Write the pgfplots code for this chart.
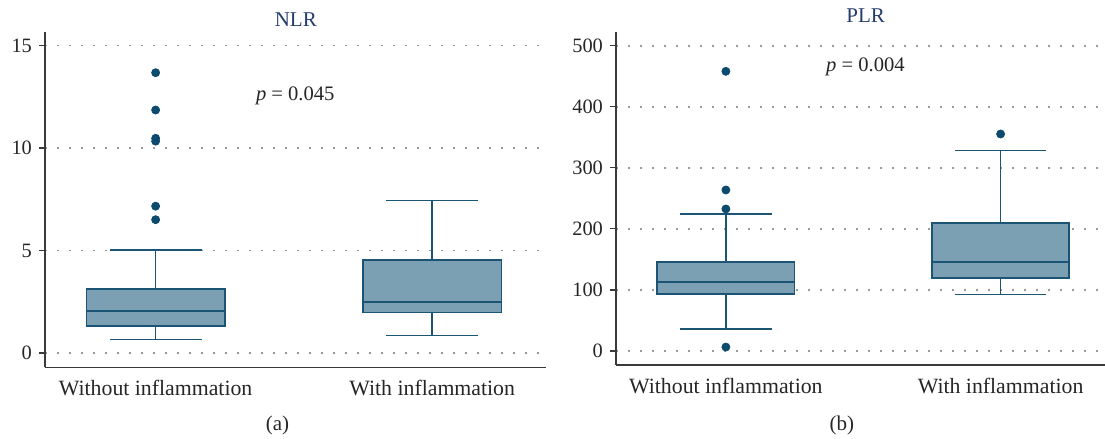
\documentclass[border=0pt]{standalone}
\usepackage{pgfplots}
\pgfplotsset{compat=1.18}
\usepackage{fontspec}
\setmainfont{Liberation Serif}
\definecolor{boxfill}{HTML}{7B9FB3}
\definecolor{boxedge}{HTML}{1C5475}
\definecolor{outl}{HTML}{0C4A6E}
\definecolor{titlec}{HTML}{253D6B}
\definecolor{axc}{HTML}{3A3A3A}
\definecolor{gridc}{HTML}{9A9A9A}
\tikzset{
  ttl/.style={anchor=center, font=\fontsize{10.5}{12}\selectfont, text=titlec},
  pv/.style={anchor=west, inner sep=0pt, font=\fontsize{10.3}{12}\selectfont, text=black!85},
}
\pgfplotsset{
  mystyle/.style={
    scale only axis,
    clip=false,
    axis x line*=bottom,
    axis y line*=left,
    axis line style={draw=axc, line width=0.75pt},
    tick align=outside,
    major tick length=3pt,
    ytick style={draw=axc, line width=0.6pt},
    xtick style={draw=none},
    xtick={0,1},
    xticklabels={Without inflammation, With inflammation},
    xmin=-0.4,
    ymajorgrids,
    major grid style={draw=gridc, line width=0.9pt, dash pattern=on 0.9pt off 5.1pt},
    /pgf/number format/assume math mode=true,
    yticklabel style={font=\fontsize{10.2}{12}\selectfont, text=black!85},
    xticklabel style={font=\fontsize{10.9}{13}\selectfont, text=black!85},
    xlabel style={font=\fontsize{10.5}{12}\selectfont, text=black!85, anchor=center},
  },
  wh/.style={draw=boxedge, line width=0.75pt, mark=none},
  bx/.style={draw=boxedge, fill=boxfill, line width=0.85pt, mark=none},
  md/.style={draw=boxedge, line width=1.05pt, mark=none},
  outs/.style={only marks, mark=*, mark size=2pt, mark options={fill=outl, draw=outl, solid}},
}
\begin{document}
\begin{tikzpicture}
\useasboundingbox (0,0) rectangle (552.5pt,219.5pt);
% Panel (a) NLR
\begin{axis}[mystyle,
  at={(22.5pt,35.85pt)}, anchor=south west,
  width=250.3pt, height=167.8pt,
  xmax=1.41,
  ymin=-0.7, ymax=15.67,
  ytick={0,5,10,15},
  xlabel={(a)},
  xlabel style={at={(axis description cs:0.4644,0)}, yshift=-29pt},
]
% Without inflammation: lw 0.65, q1 1.30, med 2.03, q3 3.11, uw 5.02
\addplot[wh] coordinates {(0,0.65) (0,5.02)};
\addplot[wh] coordinates {(-0.1667,0.65) (0.1667,0.65)};
\addplot[wh] coordinates {(-0.1667,5.02) (0.1667,5.02)};
\addplot[bx] coordinates {(-0.25,1.30) (0.25,1.30) (0.25,3.11) (-0.25,3.11)} -- cycle;
\addplot[md] coordinates {(-0.25,2.03) (0.25,2.03)};
% With inflammation: lw 0.85, q1 1.98, med 2.50, q3 4.52, uw 7.43
\addplot[wh] coordinates {(1,0.85) (1,7.43)};
\addplot[wh] coordinates {(0.8333,0.85) (1.1667,0.85)};
\addplot[wh] coordinates {(0.8333,7.43) (1.1667,7.43)};
\addplot[bx] coordinates {(0.75,1.98) (1.25,1.98) (1.25,4.52) (0.75,4.52)} -- cycle;
\addplot[md] coordinates {(0.75,2.50) (1.25,2.50)};
\addplot[outs] coordinates {(0,13.67) (0,11.85) (0,10.47) (0,10.33) (0,7.16) (0,6.50)};
\node[pv] at (rel axis cs:0.4207,0.8084) {\textit{p} = 0.045};
\node[ttl, yshift=6.2pt] at (rel axis cs:0.501,1) {NLR};
\end{axis}
% Panel (b) PLR
\begin{axis}[mystyle,
  at={(308pt,37pt)}, anchor=south west,
  width=244.5pt, height=166.65pt,
  xmax=1.38,
  ymin=-22.9, ymax=522.9,
  ytick={0,100,200,300,400,500},
  xlabel={(b)},
  xlabel style={at={(axis description cs:0.4618,0)}, yshift=-30.2pt},
]
% Without inflammation: lw 36, q1 92.8, med 112.5, q3 145.3, uw 224.4
\addplot[wh] coordinates {(0,36) (0,224.4)};
\addplot[wh] coordinates {(-0.1667,36) (0.1667,36)};
\addplot[wh] coordinates {(-0.1667,224.4) (0.1667,224.4)};
\addplot[bx] coordinates {(-0.25,92.8) (0.25,92.8) (0.25,145.3) (-0.25,145.3)} -- cycle;
\addplot[md] coordinates {(-0.25,112.5) (0.25,112.5)};
% With inflammation: lw 92.2, q1 119.6, med 145.8, q3 210.1, uw 328.7
\addplot[wh] coordinates {(1,92.2) (1,328.7)};
\addplot[wh] coordinates {(0.8333,92.2) (1.1667,92.2)};
\addplot[wh] coordinates {(0.8333,328.7) (1.1667,328.7)};
\addplot[bx] coordinates {(0.75,119.6) (1.25,119.6) (1.25,210.1) (0.75,210.1)} -- cycle;
\addplot[md] coordinates {(0.75,145.8) (1.25,145.8)};
\addplot[outs] coordinates {(0,458) (0,263.7) (0,232.6) (0,6.5) (1,355.4)};
\node[pv] at (rel axis cs:0.429,0.895) {\textit{p} = 0.004};
\node[ttl, yshift=8pt] at (rel axis cs:0.5106,1) {PLR};
\end{axis}
\end{tikzpicture}
\end{document}
